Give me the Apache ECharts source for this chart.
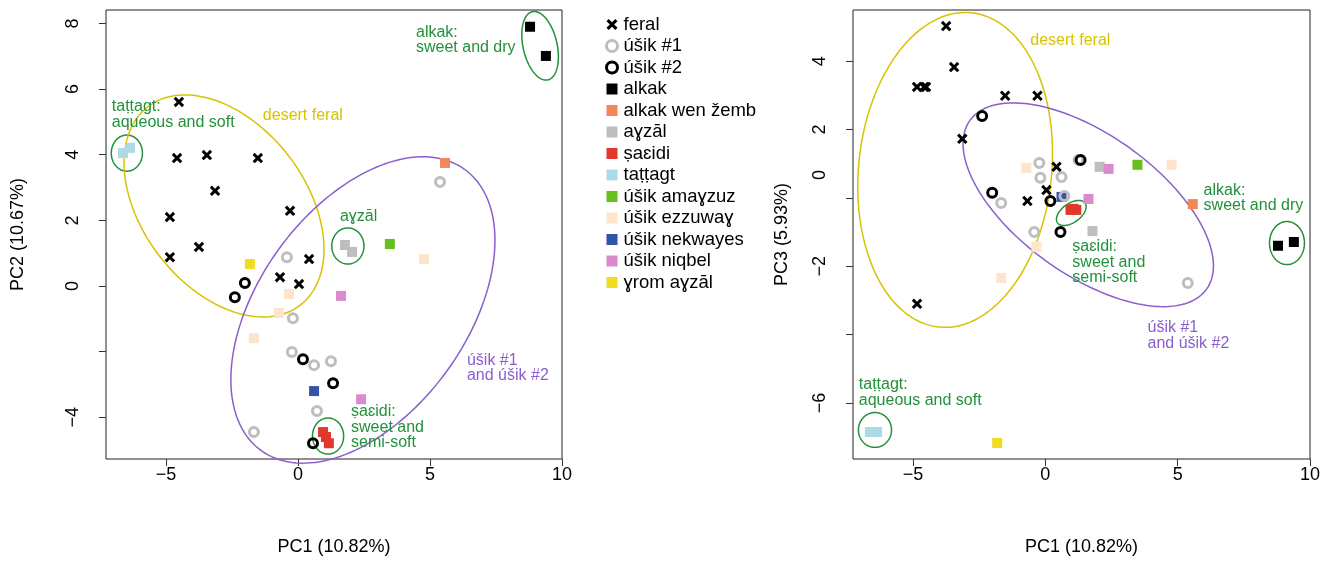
<!DOCTYPE html>
<html><head><meta charset="utf-8">
<script src="https://cdn.jsdelivr.net/npm/echarts@6/dist/echarts.min.js"></script>
<style>html,body{margin:0;padding:0;background:#fff}#c{width:1338px;height:561px}</style>
</head><body><div id="c"></div>
<script>
// ---------------- data ----------------
const groupNames = ['feral','úšik #1','úšik #2','alkak','alkak wen žemb','aɣzāl','ṣaɛidi','taṭṭagt','úšik amaɣzuz','úšik ezzuwaɣ','úšik nekwayes','úšik niqbel','ɣrom aɣzāl'];

const feralPC1 = [-4.51,-4.58,-3.45,-1.52,-3.14,-4.85,-0.30,-3.75,-4.85,0.42,-0.68,0.04];
const feralPC2 = [5.61,3.90,3.99,3.90,2.90,2.10,2.29,1.19,0.88,0.82,0.27,0.06];
const feralPC3 = [3.25,3.25,3.83,2.99,1.73,3.25,2.99,5.03,-3.10,0.91,-0.09,0.23];

const usik1PC1 = [-0.42,-0.19,-0.23,0.61,1.25,0.72,-1.67,5.38];
const usik1PC2 = [0.88,-0.98,-2.01,-2.41,-2.29,-3.81,-4.45,3.17];
const usik1PC3 = [-1.00,0.59,1.02,0.61,1.11,0.06,-0.15,-2.49];

const usik2PC1 = [-2.39,-2.01,0.19,1.33,0.57];
const usik2PC2 = [-0.34,0.09,-2.23,-2.96,-4.79];
const usik2PC3 = [2.40,0.15,-0.09,1.11,-1.00];

const alkakPC1 = [8.79,9.39];
const alkakPC2 = [7.90,7.01];
const alkakPC3 = [-1.40,-1.29];

const wenZembPC1 = [5.57];
const wenZembPC2 = [3.75];
const wenZembPC3 = [-0.18];

const ayzalPC1 = [1.78,2.05];
const ayzalPC2 = [1.25,1.04];
const ayzalPC3 = [-0.97,0.91];

const saeidiPC1 = [0.95,1.06,1.17];
const saeidiPC2 = [-4.45,-4.60,-4.79];
const saeidiPC3 = [-0.35,-0.32,-0.35];

const tattagtPC1 = [-6.63,-6.36];
const tattagtPC2 = [4.05,4.21];
const tattagtPC3 = [-6.85,-6.85];

const amayzuzPC1 = [3.48];
const amayzuzPC2 = [1.28];
const amayzuzPC3 = [0.97];

const ezzuwayPC1 = [4.77,-0.34,-0.72,-1.67];
const ezzuwayPC2 = [0.82,-0.24,-0.82,-1.59];
const ezzuwayPC3 = [0.97,-1.43,0.88,-2.34];

const nekwayesPC1 = [0.61];
const nekwayesPC2 = [-3.20];
const nekwayesPC3 = [0.03];

const niqbelPC1 = [1.63,2.39];
const niqbelPC2 = [-0.30,-3.45];
const niqbelPC3 = [-0.03,0.85];

const yromPC1 = [-1.82];
const yromPC2 = [0.67];
const yromPC3 = [-7.17];

// tick values / labels
const pc1Ticks = [-5,0,5,10];
const pc2Ticks = [-4,-2,0,2,4,6,8];
const pc2LabelVals = [-4,0,2,4,6,8];
const pc3Ticks = [-6,-4,-2,0,2,4];
const pc3LabelVals = [-6,-2,0.67,2,4];
const pc3LabelText = ['−6','−2','0','2','4'];

// ellipses: centre, two conjugate half-axes (data units)
const ellipsesPC12 = [
  {c:[-6.48,4.05], a:[0.59,0], b:[0,0.55], col:'green'},
  {c:[-2.80,2.44], a:[2.883,-3.024], b:[-2.455,-1.516], col:'yellow'},
  {c:[2.46,-0.73], a:[3.86,4.28], b:[3.18,-1.86], col:'purple'},
  {c:[1.89,1.22], a:[0.61,0], b:[0,0.55], col:'green'},
  {c:[9.17,7.32], a:[0.29,-1.04], b:[0.63,0.11], col:'green'},
  {c:[1.14,-4.57], a:[0.59,0], b:[0,0.55], col:'green'}
];
const ellipsesPC13 = [
  {c:[-3.41,0.82], a:[0.606,4.60], b:[3.63,-0.28], col:'yellow'},
  {c:[1.62,-0.20], a:[4.47,-2.47], b:[-1.55,-1.67], col:'purple'},
  {c:[0.98,-0.44], a:[0.52,0.29], b:[0.21,-0.225], col:'green'},
  {c:[9.13,-1.32], a:[0.66,0], b:[0,0.63], col:'green'},
  {c:[-6.44,-6.79], a:[0.625,0], b:[0,0.51], col:'green'}
];

// annotation texts (top-left anchor, data units)
const notesPC12 = [
  {p:[-7.05,5.70], t:'taṭṭagt:\naqueous and soft', col:'green'},
  {p:[-1.33,5.43], t:'desert feral', col:'yellow'},
  {p:[1.59,2.35], t:'aɣzāl', col:'green'},
  {p:[4.47,7.96], t:'alkak:\nsweet and dry', col:'green'},
  {p:[6.40,-2.03], t:'úšik #1\nand úšik #2', col:'purple'},
  {p:[2.01,-3.60], t:'ṣaɛidi:\nsweet and\nsemi-soft', col:'green'}
];
const notesPC13 = [
  {p:[-0.57,4.83], t:'desert feral', col:'yellow'},
  {p:[5.98,0.45], t:'alkak:\nsweet and dry', col:'green'},
  {p:[1.02,-1.20], t:'ṣaɛidi:\nsweet and\nsemi-soft', col:'green'},
  {p:[3.86,-3.57], t:'úšik #1\nand úšik #2', col:'purple'},
  {p:[-7.05,-5.25], t:'taṭṭagt:\naqueous and soft', col:'green'}
];

// ---------------- styling ----------------
const FONT = '"Liberation Sans", Arial, Helvetica, sans-serif';
const LINE = {green:'#23903A', yellow:'#D8C300', purple:'#8A5FCB'};
const X_PATH = 'path://M2,0 L5,3 L8,0 L10,2 L7,5 L10,8 L8,10 L5,7 L2,10 L0,8 L3,5 L0,2 Z';

const groupData = {
  'feral':[feralPC1,feralPC2,feralPC3],
  'úšik #1':[usik1PC1,usik1PC2,usik1PC3],
  'úšik #2':[usik2PC1,usik2PC2,usik2PC3],
  'alkak':[alkakPC1,alkakPC2,alkakPC3],
  'alkak wen žemb':[wenZembPC1,wenZembPC2,wenZembPC3],
  'aɣzāl':[ayzalPC1,ayzalPC2,ayzalPC3],
  'ṣaɛidi':[saeidiPC1,saeidiPC2,saeidiPC3],
  'taṭṭagt':[tattagtPC1,tattagtPC2,tattagtPC3],
  'úšik amaɣzuz':[amayzuzPC1,amayzuzPC2,amayzuzPC3],
  'úšik ezzuwaɣ':[ezzuwayPC1,ezzuwayPC2,ezzuwayPC3],
  'úšik nekwayes':[nekwayesPC1,nekwayesPC2,nekwayesPC3],
  'úšik niqbel':[niqbelPC1,niqbelPC2,niqbelPC3],
  'ɣrom aɣzāl':[yromPC1,yromPC2,yromPC3]
};
const squareCol = {
  'alkak':'#000000','alkak wen žemb':'#F58658','aɣzāl':'#BEBEBE','ṣaɛidi':'#E0382B',
  'taṭṭagt':'#ADDAE6','úšik amaɣzuz':'#66BF1A','úšik ezzuwaɣ':'#FDE4CB',
  'úšik nekwayes':'#3553A6','úšik niqbel':'#D98BCE','ɣrom aɣzāl':'#EEDD22'
};
function styleOf(name){
  if(name==='feral') return {symbol:X_PATH, symbolSize:10.5, itemStyle:{color:'#000', opacity:1}};
  if(name==='úšik #1') return {symbol:'circle', symbolSize:9, itemStyle:{color:'rgba(0,0,0,0)', borderColor:'#BEBEBE', borderWidth:3, opacity:1}};
  if(name==='úšik #2') return {symbol:'circle', symbolSize:9, itemStyle:{color:'rgba(0,0,0,0)', borderColor:'#000', borderWidth:3, opacity:1}};
  return {symbol:'rect', symbolSize:10, itemStyle:{color:squareCol[name], opacity:1}};
}
const drawOrder = groupNames.slice(3).concat(['úšik #1','úšik #2','feral']);

const fmt = v => v<0 ? '\u2212'+Math.abs(v) : String(v);

function xAxisFor(i){
  return {type:'value', gridIndex:i, min:-7.27, max:10, name:'PC1 (10.82%)', nameLocation:'middle', nameGap:79,
    nameTextStyle:{fontFamily:FONT, fontSize:18, color:'#000'},
    axisLine:{show:false, onZero:false}, splitLine:{show:false},
    axisTick:{show:true, inside:false, length:7, lineStyle:{color:'#333', width:1}, customValues:pc1Ticks},
    axisLabel:{fontFamily:FONT, fontSize:18, color:'#000', margin:7, customValues:pc1Ticks, formatter:fmt}};
}

const series = [];
function ellipseSeries(list, i){
  return {type:'custom', xAxisIndex:i, yAxisIndex:i, silent:true, clip:false, z:1,
    data:list.map(e=>[e.c[0],e.c[1]]),
    renderItem:(params, api)=>{
      const e = list[params.dataIndex]; const pts=[];
      for(let k=0;k<=160;k++){const t=k/160*Math.PI*2;
        pts.push(api.coord([e.c[0]+e.a[0]*Math.cos(t)+e.b[0]*Math.sin(t), e.c[1]+e.a[1]*Math.cos(t)+e.b[1]*Math.sin(t)]));}
      return {type:'polyline', shape:{points:pts}, style:{fill:null, stroke:LINE[e.col], lineWidth:1.5}};
    }};
}
function noteSeries(list, i){
  return {type:'custom', xAxisIndex:i, yAxisIndex:i, silent:true, clip:false, z:5,
    data:list.map(n=>[n.p[0],n.p[1]]),
    renderItem:(params, api)=>{
      const n = list[params.dataIndex]; const p = api.coord(n.p);
      return {type:'text', x:p[0], y:p[1], style:{text:n.t, fill:LINE[n.col], fontFamily:FONT, fontSize:16, lineHeight:15.5, align:'left', verticalAlign:'top'}};
    }};
}
series.push(ellipseSeries(ellipsesPC12,0), ellipseSeries(ellipsesPC13,1));
[0,1].forEach(i=>{
  drawOrder.forEach(name=>{
    const d = groupData[name]; const yv = i===0 ? d[1] : d[2];
    series.push(Object.assign({type:'scatter', name, xAxisIndex:i, yAxisIndex:i, z:3, silent:true,
      data:d[0].map((x,k)=>[x,yv[k]])}, styleOf(name)));
  });
});
series.push(noteSeries(notesPC12,0), noteSeries(notesPC13,1));

const legendData = groupNames.map(n=>{
  const s = styleOf(n);
  return {name:n, icon:s.symbol, itemStyle:s.itemStyle};
});

const option = {
  animation:false, backgroundColor:'#fff',
  grid:[
    {left:106, top:10, width:456, height:449, show:true, borderColor:'#222', borderWidth:1, backgroundColor:'transparent'},
    {left:853, top:10, width:457, height:449, show:true, borderColor:'#222', borderWidth:1, backgroundColor:'transparent'}
  ],
  xAxis:[xAxisFor(0), xAxisFor(1)],
  yAxis:[
    {type:'value', gridIndex:0, min:-5.27, max:8.41, name:'PC2 (10.67%)', nameLocation:'middle', nameGap:79,
      nameTextStyle:{fontFamily:FONT, fontSize:18, color:'#000'},
      axisLine:{show:false, onZero:false}, splitLine:{show:false},
      axisTick:{show:true, length:7, lineStyle:{color:'#333'}, customValues:pc2Ticks},
      axisLabel:{fontFamily:FONT, fontSize:18, color:'#000', rotate:90, margin:24, customValues:pc2LabelVals, formatter:fmt}},
    {type:'value', gridIndex:1, min:-7.64, max:5.50, name:'PC3 (5.93%)', nameLocation:'middle', nameGap:62,
      nameTextStyle:{fontFamily:FONT, fontSize:18, color:'#000'},
      axisLine:{show:false, onZero:false}, splitLine:{show:false},
      axisTick:{show:true, length:7, lineStyle:{color:'#333'}, customValues:pc3Ticks},
      axisLabel:{fontFamily:FONT, fontSize:18, color:'#000', rotate:90, margin:24, customValues:pc3LabelVals,
        formatter:v=>{const k=pc3LabelVals.findIndex(u=>Math.abs(u-v)<1e-6); return k>=0?pc3LabelText[k]:fmt(v);}}}
  ],
  legend:{orient:'vertical', left:605, top:15, padding:0, itemWidth:11, itemHeight:11, itemGap:2.5, selectedMode:false,
    textStyle:{fontFamily:FONT, fontSize:18.5, color:'#000', padding:[0,0,0,1]},
    data:legendData},
  series
};
const chart = echarts.init(document.getElementById('c'));
chart.setOption(option);
</script></body></html>
